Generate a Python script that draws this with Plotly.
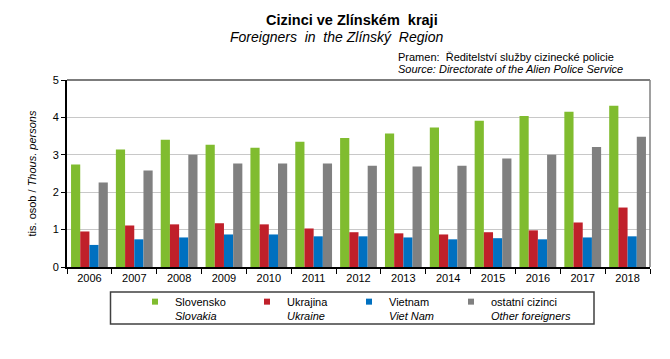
import plotly.graph_objects as go

years = ["2006", "2007", "2008", "2009", "2010", "2011", "2012", "2013", "2014", "2015", "2016", "2017", "2018"]
slovensko = [2.74, 3.14, 3.40, 3.27, 3.19, 3.35, 3.45, 3.57, 3.73, 3.91, 4.04, 4.15, 4.31]
ukrajina = [0.95, 1.11, 1.14, 1.17, 1.14, 1.03, 0.93, 0.90, 0.87, 0.93, 0.98, 1.19, 1.59]
vietnam = [0.59, 0.74, 0.79, 0.87, 0.87, 0.82, 0.82, 0.79, 0.74, 0.77, 0.74, 0.79, 0.82]
ostatni = [2.26, 2.58, 3.00, 2.77, 2.77, 2.77, 2.71, 2.69, 2.71, 2.90, 3.00, 3.21, 3.48]

series = [
    ("Slovensko", "Slovakia", slovensko, "#80BC2F"),
    ("Ukrajina", "Ukraine", ukrajina, "#C0202A"),
    ("Vietnam", "Viet Nam", vietnam, "#0070C0"),
    ("ostatní cizinci", "Other foreigners", ostatni, "#808080"),
]
legend_marker_px = [157, 269, 371, 473]

FONT = "Liberation Sans, Arial, sans-serif"
PL, PT, PW, PH = 67, 80, 583, 187  # target plot area in window pixels


def px_x(px):
    return (px - PL) / PW


def px_y(py):
    return (PT + PH - py) / PH


fig = go.Figure()
for cz, en, vals, col in series:
    fig.add_trace(go.Bar(x=years, y=vals, marker=dict(color=col, line=dict(width=0)),
                         showlegend=False, name=cz))
legend_layout = {}
for i, (cz, en, vals, col) in enumerate(series):
    lname = "legend" if i == 0 else f"legend{i + 1}"
    fig.add_trace(go.Scatter(x=[None], y=[None], mode="markers",
                             marker=dict(symbol="square", size=6, color=col),
                             name=f"{cz}<br><i>{en}</i>", showlegend=True, legend=lname))
    legend_layout[lname] = dict(x=px_x(legend_marker_px[i] - 22), y=px_y(288),
                                xanchor="left", yanchor="top", valign="top",
                                font=dict(family=FONT, size=11),
                                bgcolor="rgba(0,0,0,0)", borderwidth=0)

# page has an 8px body margin, so shift the plot area accordingly
OFF = 8
fig.update_layout(
    width=670, height=359,
    margin=dict(l=PL - OFF, r=670 - (PL + PW) + OFF, t=PT - OFF, b=359 - (PT + PH) + OFF, autoexpand=False),
    paper_bgcolor="white", plot_bgcolor="white",
    font=dict(family=FONT, size=11, color="black"),
    barmode="group", bargap=0.18, bargroupgap=0,
    showlegend=True,
    xaxis=dict(type="category", showline=True, linecolor="black", linewidth=2,
               ticks="outside", tickson="boundaries", ticklen=5, tickcolor="black",
               showgrid=False, automargin=False, tickfont=dict(size=11, family=FONT)),
    yaxis=dict(range=[0, 5], dtick=1, showline=True, linecolor="black", linewidth=2,
               ticks="outside", ticklen=4, tickcolor="black", automargin=False,
               showgrid=True, gridcolor="#C8C8C8", gridwidth=1, zeroline=False,
               tickfont=dict(size=11, family=FONT),
               title=dict(text="tis. osob / <i>Thous. persons</i>", font=dict(size=11, family=FONT), standoff=14)),
    **legend_layout,
)

# plot frame top and right
fig.add_shape(type="line", xref="paper", yref="paper", x0=0, x1=1, y0=1, y1=1,
              line=dict(color="#505050", width=1.5))
fig.add_shape(type="line", xref="paper", yref="paper", x0=1, x1=1, y0=0, y1=1,
              line=dict(color="#808080", width=1.5))
# legend box
fig.add_shape(type="rect", xref="paper", yref="paper",
              x0=px_x(110.5), x1=px_x(594), y0=px_y(324), y1=px_y(292),
              line=dict(color="#404040", width=1.5), fillcolor="rgba(0,0,0,0)")

fig.add_annotation(text="<b>Cizinci ve Zlínském  kraji</b>", xref="paper", yref="paper",
                   x=px_x(352), y=px_y(20), xanchor="center", yanchor="middle",
                   showarrow=False, font=dict(size=14.5, family=FONT))
fig.add_annotation(text="<i>Foreigners  in  the Zlínský  Region</i>", xref="paper", yref="paper",
                   x=px_x(336), y=px_y(37), xanchor="center", yanchor="middle",
                   showarrow=False, font=dict(size=14, family=FONT))
fig.add_annotation(text="Pramen:  Ředitelství služby cizinecké policie", xref="paper", yref="paper",
                   x=px_x(396), y=px_y(57), xanchor="left", yanchor="middle",
                   showarrow=False, font=dict(size=11, family=FONT))
fig.add_annotation(text="<i>Source: Directorate of the Alien Police Service</i>", xref="paper", yref="paper",
                   x=px_x(396), y=px_y(69), xanchor="left", yanchor="middle",
                   showarrow=False, font=dict(size=11, family=FONT))

fig.write_html("out.html")
